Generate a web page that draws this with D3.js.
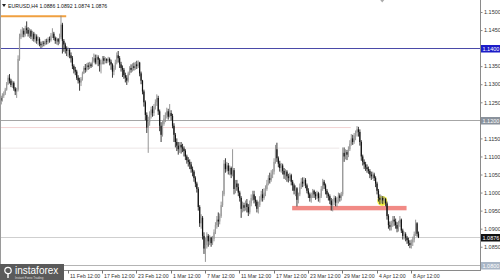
<!DOCTYPE html>
<html><head><meta charset="utf-8">
<script src="https://cdn.jsdelivr.net/npm/d3@7/dist/d3.min.js"></script>
<style>
html,body{margin:0;padding:0;background:#fff;}
svg{display:block;}
text{font-family:"Liberation Sans",Arial,sans-serif;}
</style></head>
<body>
<svg id="c" width="500" height="280"></svg>
<script>
// ---- data (EURUSD H4) ----
const firstOpen = 1.1258;
const closes = [
1.1262,1.1255,1.1268,1.1274,1.1285,1.1300,1.1318,1.1310,1.1298,1.1304,
1.1288,1.1280,1.1285,1.1370,1.1430,1.1440,1.1448,1.1438,1.1455,1.1450,
1.1440,1.1448,1.1432,1.1440,1.1425,1.1432,1.1420,1.1425,1.1412,1.1408,
1.1415,1.1412,1.1420,1.1418,1.1425,1.1422,1.1435,1.1440,1.1428,1.1420,
1.1425,1.1418,1.1430,1.1465,1.1420,1.1410,1.1398,1.1392,1.1395,1.1380,
1.1372,1.1350,1.1340,1.1335,1.1318,1.1310,1.1305,1.1315,1.1330,1.1345,
1.1340,1.1352,1.1348,1.1355,1.1350,1.1365,1.1372,1.1360,1.1375,1.1368,
1.1355,1.1360,1.1372,1.1365,1.1370,1.1365,1.1370,1.1362,1.1355,1.1335,
1.1345,1.1360,1.1380,1.1372,1.1355,1.1345,1.1340,1.1325,1.1318,1.1310,
1.1330,1.1345,1.1340,1.1350,1.1345,1.1355,1.1350,1.1360,1.1330,1.1310,
1.1280,1.1250,1.1215,1.1180,1.1195,1.1215,1.1230,1.1220,1.1238,1.1250,
1.1262,1.1225,1.1185,1.1160,1.1190,1.1205,1.1215,1.1225,1.1210,1.1220,
1.1212,1.1185,1.1160,1.1140,1.1130,1.1120,1.1132,1.1125,1.1122,1.1115,
1.1100,1.1090,1.1085,1.1078,1.1065,1.1058,1.1040,1.1025,1.1010,1.0960,
1.0915,1.0930,1.0880,1.0845,1.0855,1.0880,1.0865,1.0875,1.0860,1.0872,
1.0890,1.0910,1.0925,1.0920,1.0935,1.0965,1.0995,1.1080,1.1065,1.1075,
1.1060,1.1068,1.1050,1.1062,1.1010,1.1025,1.1015,1.1000,1.0985,1.0955,
1.0965,1.0958,1.0970,1.0960,1.0945,1.0970,1.0985,1.0995,1.0980,1.0975,
1.0955,1.0965,1.0980,1.0995,1.0985,1.1000,1.1010,1.1025,1.1040,1.1035,
1.1050,1.1058,1.1085,1.1120,1.1095,1.1080,1.1068,1.1075,1.1060,1.1050,
1.1058,1.1045,1.1040,1.1048,1.1030,1.1020,1.1005,1.1012,1.0980,1.0995,
1.1015,1.1030,1.1025,1.1035,1.1020,1.1005,1.0995,1.0985,1.0992,1.1005,
1.0995,1.0990,1.0998,1.0985,1.0990,1.1010,1.1030,1.1020,1.1005,1.0995,
1.0990,1.0978,1.0965,1.0975,1.0985,1.0972,1.0980,1.0992,1.0985,1.0995,
1.1110,1.1100,1.1112,1.1105,1.1120,1.1135,1.1150,1.1140,1.1158,1.1165,
1.1175,1.1168,1.1140,1.1100,1.1085,1.1078,1.1070,1.1065,1.1060,1.1050,
1.1045,1.1050,1.1040,1.1025,1.1005,1.0985,1.0980,1.0985,1.0978,1.0982,
1.0970,1.0935,1.0910,1.0905,1.0915,1.0925,1.0920,1.0910,1.0900,1.0915,
1.0925,1.0895,1.0880,1.0885,1.0875,1.0868,1.0860,1.0855,1.0862,1.0870,
1.0885,1.0915,1.0886,1.0876];
const highs = [
1.1272,1.1268,1.1275,1.1280,1.1290,1.1306,1.1325,1.1328,1.1315,1.1310,
1.1308,1.1292,1.1290,1.1380,1.1440,1.1452,1.1458,1.1455,1.1462,1.1474,
1.1458,1.1455,1.1452,1.1448,1.1445,1.1440,1.1438,1.1432,1.1430,1.1418,
1.1420,1.1420,1.1425,1.1426,1.1430,1.1432,1.1442,1.1455,1.1445,1.1432,
1.1430,1.1428,1.1440,1.1490,1.1470,1.1425,1.1415,1.1405,1.1402,1.1400,
1.1388,1.1378,1.1355,1.1348,1.1340,1.1325,1.1318,1.1320,1.1335,1.1350,
1.1356,1.1358,1.1360,1.1362,1.1360,1.1375,1.1385,1.1382,1.1382,1.1380,
1.1372,1.1368,1.1378,1.1378,1.1375,1.1372,1.1376,1.1374,1.1368,1.1358,
1.1352,1.1368,1.1388,1.1392,1.1378,1.1362,1.1352,1.1345,1.1332,1.1325,
1.1335,1.1350,1.1355,1.1358,1.1360,1.1362,1.1365,1.1366,1.1362,1.1335,
1.1312,1.1285,1.1255,1.1222,1.1210,1.1225,1.1238,1.1240,1.1245,1.1258,
1.1272,1.1268,1.1230,1.1195,1.1198,1.1215,1.1222,1.1235,1.1232,1.1245,
1.1228,1.1218,1.1192,1.1165,1.1150,1.1140,1.1140,1.1140,1.1135,1.1128,
1.1120,1.1105,1.1098,1.1092,1.1085,1.1072,1.1062,1.1045,1.1030,1.1015,
1.0965,1.0940,1.0935,1.0890,1.0875,1.0890,1.0885,1.0882,1.0878,1.0880,
1.0898,1.0918,1.0935,1.0945,1.0942,1.0975,1.1005,1.1090,1.1095,1.1085,
1.1082,1.1075,1.1072,1.1120,1.1068,1.1035,1.1035,1.1025,1.1005,1.0990,
1.0975,1.0972,1.0978,1.0982,1.0968,1.0978,1.0995,1.1005,1.1005,1.0990,
1.0980,1.0975,1.0990,1.1005,1.1010,1.1012,1.1020,1.1035,1.1048,1.1055,
1.1062,1.1065,1.1095,1.1132,1.1138,1.1100,1.1088,1.1082,1.1080,1.1068,
1.1065,1.1062,1.1052,1.1055,1.1052,1.1035,1.1025,1.1020,1.1015,1.1000,
1.1025,1.1040,1.1042,1.1042,1.1040,1.1025,1.1012,1.1000,1.1000,1.1010,
1.1008,1.1002,1.1005,1.1002,1.0998,1.1018,1.1038,1.1035,1.1025,1.1010,
1.1000,1.0995,1.0985,1.0982,1.0992,1.0990,1.0988,1.1000,1.0998,1.1002,
1.1125,1.1125,1.1120,1.1118,1.1128,1.1145,1.1162,1.1160,1.1165,1.1172,
1.1184,1.1182,1.1175,1.1145,1.1105,1.1092,1.1085,1.1078,1.1072,1.1065,
1.1058,1.1058,1.1055,1.1045,1.1030,1.1010,1.0995,1.0992,1.0990,1.0988,
1.0985,1.0975,1.0940,1.0920,1.0922,1.0935,1.0935,1.0928,1.0918,1.0922,
1.0935,1.0928,1.0900,1.0892,1.0890,1.0880,1.0875,1.0868,1.0870,1.0878,
1.0892,1.0925,1.0918,1.0892];
const lows = [
1.1245,1.1244,1.1252,1.1262,1.1270,1.1282,1.1298,1.1302,1.1292,1.1290,
1.1282,1.1270,1.1262,1.1280,1.1365,1.1425,1.1430,1.1430,1.1432,1.1440,
1.1432,1.1428,1.1425,1.1420,1.1418,1.1415,1.1412,1.1408,1.1405,1.1400,
1.1402,1.1405,1.1408,1.1410,1.1412,1.1415,1.1418,1.1428,1.1422,1.1412,
1.1410,1.1408,1.1412,1.1425,1.1385,1.1390,1.1385,1.1378,1.1375,1.1372,
1.1360,1.1342,1.1330,1.1325,1.1312,1.1302,1.1282,1.1295,1.1310,1.1328,
1.1332,1.1335,1.1340,1.1342,1.1345,1.1348,1.1360,1.1355,1.1355,1.1350,
1.1335,1.1330,1.1355,1.1355,1.1358,1.1358,1.1360,1.1352,1.1340,1.1318,
1.1325,1.1340,1.1355,1.1360,1.1345,1.1335,1.1320,1.1315,1.1305,1.1298,
1.1305,1.1325,1.1332,1.1335,1.1338,1.1340,1.1342,1.1345,1.1322,1.1300,
1.1272,1.1238,1.1200,1.1165,1.1110,1.1185,1.1205,1.1210,1.1212,1.1230,
1.1240,1.1215,1.1170,1.1140,1.1155,1.1185,1.1195,1.1205,1.1202,1.1208,
1.1200,1.1178,1.1140,1.1125,1.1115,1.1105,1.1110,1.1108,1.1112,1.1100,
1.1090,1.1080,1.1072,1.1065,1.1055,1.1045,1.1030,1.1015,1.1000,1.0950,
1.0905,1.0900,1.0870,1.0830,1.0808,1.0845,1.0850,1.0855,1.0850,1.0855,
1.0865,1.0885,1.0900,1.0905,1.0912,1.0930,1.0960,1.0990,1.1055,1.1058,
1.1050,1.1048,1.1040,1.1045,1.0995,1.0998,1.1005,1.0990,1.0975,1.0930,
1.0945,1.0948,1.0950,1.0945,1.0935,1.0940,1.0962,1.0978,1.0970,1.0962,
1.0945,1.0942,1.0960,1.0975,1.0975,1.0980,1.0990,1.1005,1.1020,1.1025,
1.1030,1.1040,1.1050,1.1080,1.1085,1.1070,1.1058,1.1055,1.1050,1.1038,
1.1035,1.1030,1.1028,1.1032,1.1020,1.1005,1.0995,1.0990,1.0962,1.0970,
1.0990,1.1010,1.1015,1.1018,1.1012,1.0998,1.0985,1.0975,1.0972,1.0985,
1.0985,1.0980,1.0982,1.0975,1.0972,1.0985,1.1005,1.1010,1.0995,1.0985,
1.0978,1.0968,1.0950,1.0948,1.0965,1.0962,1.0960,1.0970,1.0975,1.0978,
1.0990,1.1085,1.1092,1.1090,1.1098,1.1115,1.1130,1.1132,1.1135,1.1145,
1.1155,1.1155,1.1130,1.1088,1.1075,1.1065,1.1060,1.1055,1.1052,1.1040,
1.1035,1.1038,1.1032,1.1015,1.0995,1.0975,1.0968,1.0970,1.0968,1.0970,
1.0962,1.0925,1.0900,1.0895,1.0895,1.0905,1.0908,1.0900,1.0890,1.0892,
1.0905,1.0888,1.0870,1.0870,1.0865,1.0858,1.0852,1.0846,1.0845,1.0852,
1.0862,1.0880,1.0878,1.0874];

const priceTicks = [1.1500,1.1450,1.1350,1.1300,1.1250,1.1150,1.1100,1.1050,1.1000,1.0950,1.0900,1.0850];
const dateLabels = ["11 Feb 12:00","17 Feb 12:00","23 Feb 12:00","1 Mar 12:00","7 Mar 12:00","11 Mar 12:00","17 Mar 12:00","23 Mar 12:00","29 Mar 12:00","4 Apr 12:00","8 Apr 12:00"];
const dateLabelIdx = [48,72,96,120,144,168,192,216,240,264,288];
const titleText = "EURUSD,H4  1.0886 1.0892 1.0874 1.0876";

// annotation levels
const resistanceHigh = 1.1488;   // orange, bars 0..46
const blueLevel = 1.1400;
const grayLevel = 1.1200;
const pinkLevel = 1.1180;        // bars 0..246
const faintLevel = 1.1123;       // bars 0..238
const currentPrice = 1.0876;
const bottomLevel = 1.0800;
const zoneLevel = 1.0957;        // bars 205..285
const markerIdx = 268, markerPrice = 1.0977;

// ---- build ----
const bars = closes.map((c,i)=>({i, o: i===0?firstOpen:closes[i-1], h: highs[i], l: lows[i], c}));
const W=500,H=280, axisX=480, plotBottom=270;
const svg = d3.select("#c");
const x = d3.scaleLinear().domain([0, bars.length-1]).range([-1, -1 + (bars.length-1)*1.43]);
const y = d3.scaleLinear().domain([1.0800, 1.1500]).range([264.8, 12]);

const plot = svg.append("g");
// clip
svg.append("defs").append("clipPath").attr("id","pc").append("rect").attr("x",0).attr("y",0).attr("width",axisX).attr("height",plotBottom);
plot.attr("clip-path","url(#pc)");

// faint levels
plot.append("line").attr("x1",0).attr("x2",x(246)).attr("y1",y(pinkLevel)).attr("y2",y(pinkLevel)).attr("stroke","#f3d3d3").attr("stroke-width",1);
plot.append("line").attr("x1",0).attr("x2",x(238)).attr("y1",y(faintLevel)).attr("y2",y(faintLevel)).attr("stroke","#ece6e6").attr("stroke-width",1);

// full levels
const hl = (v,col,w)=>plot.append("line").attr("x1",0).attr("x2",axisX).attr("y1",Math.round(y(v))+0.5).attr("y2",Math.round(y(v))+0.5).attr("stroke",col).attr("stroke-width",w);
hl(blueLevel,"#4a4aa8",1.2);
hl(grayLevel,"#a6a6a6",1.2);
hl(currentPrice,"#cfcfcf",1);
hl(bottomLevel,"#b4b4b4",1);

// orange resistance
plot.append("line").attr("x1",0).attr("x2",x(47)).attr("y1",y(resistanceHigh)).attr("y2",y(resistanceHigh)).attr("stroke","#f0a040").attr("stroke-width",2);

// zone
plot.append("rect").attr("x",x(205)).attr("width",x(285)-x(205)).attr("y",y(zoneLevel)-2.2).attr("height",4.4).attr("fill","#ef7d78").attr("opacity",0.9);

// marker
plot.append("circle").attr("cx",x(markerIdx)).attr("cy",y(markerPrice)).attr("r",5).attr("fill","#f2f02a").attr("opacity",0.9);

// candles
const cg = plot.append("g");
cg.selectAll("line.w").data(bars).join("line").attr("class","w")
  .attr("x1",d=>x(d.i)+0.5).attr("x2",d=>x(d.i)+0.5)
  .attr("y1",d=>y(Math.max(d.h,d.o,d.c))).attr("y2",d=>y(Math.min(d.l,d.o,d.c)))
  .attr("stroke",d=>d.c>=d.o?"#8a8a8a":"#222").attr("stroke-width",0.9);
cg.selectAll("rect.b").data(bars).join("rect").attr("class","b")
  .attr("x",d=>x(d.i)-0.1).attr("width",1.2)
  .attr("y",d=>y(Math.max(d.o,d.c))).attr("height",d=>Math.max(0.6,Math.abs(y(d.o)-y(d.c))))
  .attr("fill",d=>d.c>=d.o?"#9a9a9a":"#111");

// frame
svg.append("line").attr("x1",0.5).attr("x2",0.5).attr("y1",0).attr("y2",plotBottom).attr("stroke","#9a9a9a");
svg.append("line").attr("x1",axisX+0.5).attr("x2",axisX+0.5).attr("y1",0).attr("y2",plotBottom+1).attr("stroke","#8a8a8a");
svg.append("line").attr("x1",0).attr("x2",axisX+1).attr("y1",plotBottom+0.5).attr("y2",plotBottom+0.5).attr("stroke","#8a8a8a");

// price axis
const ax = svg.append("g").attr("transform",`translate(${axisX+0.5},0)`);
ax.call(d3.axisRight(y).tickValues(priceTicks).tickFormat(d3.format(".4f")).tickSize(2).tickPadding(1.5))
  .call(g=>g.select(".domain").remove())
  .call(g=>g.selectAll("line").attr("stroke","#888"))
  .call(g=>g.selectAll("text").attr("font-size","5.5px").attr("fill","#333").attr("font-family","Liberation Sans, Arial"));

// boxed labels
const boxes = [[blueLevel,"#1c1cc8","#fff"],[grayLevel,"#8a929c","#fff"],[currentPrice,"#111","#fff"],[bottomLevel,"#a9b6c6","#fff"]];
boxes.forEach(([v,bg,fg])=>{
  const yy = Math.round(y(v))+0.5;
  svg.append("rect").attr("x",axisX+1).attr("y",yy-3.5).attr("width",19).attr("height",7.5).attr("fill",bg);
  svg.append("text").attr("x",axisX+2.5).attr("y",yy+2).attr("font-size","5.5px").attr("fill",fg).text(d3.format(".4f")(v));
});

// time axis
const tg = svg.append("g");
dateLabelIdx.forEach((idx,k)=>{
  const xx = Math.round(x(idx))+0.5;
  tg.append("line").attr("x1",xx).attr("x2",xx).attr("y1",plotBottom).attr("y2",plotBottom+3.5).attr("stroke","#777");
  tg.append("text").attr("x",xx+1.5).attr("y",278).attr("font-size","5.2px").attr("fill","#333").text(dateLabels[k]);
});

// title
svg.append("path").attr("d","M2,4 L6,4 L4,7 Z").attr("fill","#222");
svg.append("text").attr("x",8).attr("y",8).attr("font-size","5.2px").attr("fill","#111").text(titleText);
// chart shift marker
svg.append("path").attr("d",`M${x(268)-2},0 L${x(268)+2},0 L${x(268)},2.5 Z`).attr("fill","#aaa");

// logo
const lg = svg.append("g");
lg.append("rect").attr("x",0).attr("y",264).attr("width",64).attr("height",16).attr("fill","#5a5a5a");
lg.append("circle").attr("cx",8).attr("cy",270.5).attr("r",3.2).attr("fill","none").attr("stroke","#fff").attr("stroke-width",1.2);
lg.append("line").attr("x1",8).attr("x2",8).attr("y1",273.5).attr("y2",278).attr("stroke","#fff").attr("stroke-width",1.4);
lg.append("text").attr("x",15).attr("y",274).attr("font-size","10px").attr("fill","#fff").text("instaforex");
lg.append("text").attr("x",15).attr("y",279).attr("font-size","3px").attr("fill","#ddd").text("Instant Forex Trading");
</script>
</body></html>
